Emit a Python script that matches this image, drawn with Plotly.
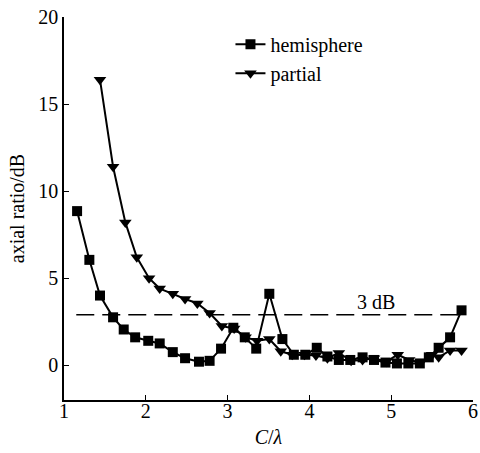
import plotly.graph_objects as go

# ── Dados ──────────────────────────────────────────────────────────────────────
hemi_x = [1.16, 1.31, 1.44, 1.60, 1.73, 1.87, 2.03, 2.17, 2.33, 2.48, 2.65, 2.78,
          2.92, 3.07, 3.21, 3.35, 3.51, 3.67, 3.81, 3.95, 4.09, 4.22, 4.36, 4.50,
          4.65, 4.79, 4.93, 5.07, 5.21, 5.35, 5.46, 5.58, 5.72, 5.86]
hemi_y = [8.85, 6.05, 4.0, 2.75, 2.05, 1.6, 1.4, 1.25, 0.75, 0.4, 0.2, 0.25,
          0.95, 2.15, 1.6, 0.95, 4.1, 1.5, 0.6, 0.6, 1.0, 0.5, 0.3, 0.3,
          0.45, 0.3, 0.15, 0.1, 0.1, 0.1, 0.45, 1.0, 1.6, 3.15]

part_x = [1.44, 1.60, 1.75, 1.89, 2.04, 2.17, 2.33, 2.48, 2.63, 2.78, 2.93, 3.08,
          3.22, 3.36, 3.51, 3.65, 3.79, 3.94, 4.08, 4.22, 4.36, 4.51, 4.65, 4.79,
          4.94, 5.08, 5.22, 5.36, 5.50, 5.58, 5.72, 5.86]
part_y = [16.4, 11.4, 8.2, 6.2, 5.0, 4.4, 4.1, 3.8, 3.55, 3.0, 2.25, 2.1,
          1.6, 1.4, 1.5, 0.8, 0.6, 0.6, 0.55, 0.4, 0.7, 0.25, 0.3, 0.4,
          0.2, 0.6, 0.3, 0.15, 0.6, 0.45, 0.85, 0.85]

ref_x = [1.15, 5.85]
ref_y = [2.9, 2.9]

FONT = "Liberation Serif, Times New Roman, Times, serif"
FS = 20

fig = go.Figure()
fig.add_trace(go.Scatter(
    x=ref_x, y=ref_y, mode="lines", showlegend=False,
    line=dict(color="black", width=1.5, dash="18px,8px"),
))
fig.add_trace(go.Scatter(
    x=hemi_x, y=hemi_y, mode="lines+markers", name="hemisphere",
    line=dict(color="black", width=2),
    marker=dict(symbol="square", size=10, color="black"),
))
fig.add_trace(go.Scatter(
    x=part_x, y=part_y, mode="lines+markers", name="partial",
    line=dict(color="black", width=2),
    marker=dict(symbol="triangle-down", size=11, color="black"),
))

fig.add_annotation(x=4.82, y=2.9, text="3 dB", showarrow=False,
                   yanchor="bottom", yshift=0, font=dict(size=FS, family=FONT, color="black"))

axis_common = dict(
    showline=True, linecolor="black", linewidth=1.5, mirror=False,
    ticks="inside", ticklen=5, tickcolor="black", showgrid=False, zeroline=False,
    tickfont=dict(size=FS, family=FONT, color="black"),
    ticklabeloverflow="allow", automargin=False,
)
fig.update_xaxes(range=[1, 6.0001], tickvals=[1, 2, 3, 4, 5, 6],
                 ticklabelstandoff=-8,
                 title=dict(text="<i>C</i>/<i>λ</i>", font=dict(size=FS, family=FONT, color="black"),
                            standoff=9),
                 **axis_common)
fig.update_yaxes(range=[-2, 20], tickvals=[0, 5, 10, 15, 20],
                 title=dict(text="axial ratio/dB", font=dict(size=FS, family=FONT, color="black"),
                            standoff=8),
                 **axis_common)

fig.update_layout(
    width=480, height=453,
    margin=dict(l=64, r=7, t=17, b=53),
    plot_bgcolor="white", paper_bgcolor="white",
    legend=dict(x=0.407, y=0.98, xanchor="left", yanchor="top",
                font=dict(size=FS, family=FONT, color="black"),
                bgcolor="rgba(0,0,0,0)", itemwidth=30, tracegroupgap=0),
)

# tira a margem padrão do body para a figura ocupar a janela inteira
fig.write_html("out.html", config={"displayModeBar": False},
               post_script="document.body.style.margin='0';document.body.style.overflow='hidden';")
